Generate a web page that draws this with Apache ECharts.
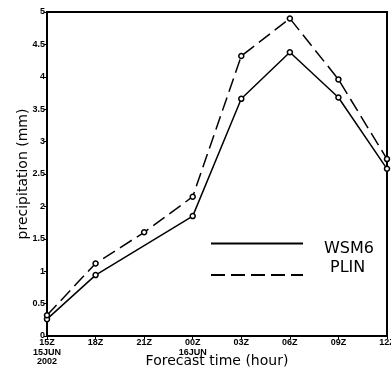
<!DOCTYPE html>
<html><head><meta charset="utf-8">
<script src="https://cdn.jsdelivr.net/npm/echarts@6/dist/echarts.min.js"></script>
<style>html,body{margin:0;padding:0;background:#fff}#c{width:391px;height:371px}</style>
</head><body><div id="c"></div>
<script>
const categories = ['15Z\n15JUN\n2002','18Z','21Z','00Z\n16JUN','03Z','06Z','09Z','12Z'];
const wsm6 = [0.26, 0.94, null, 1.85, 3.66, 4.38, 3.68, 2.58];
const plin = [0.32, 1.12, 1.60, 2.15, 4.32, 4.90, 3.96, 2.73];
const yTicks = [0, 0.5, 1, 1.5, 2, 2.5, 3, 3.5, 4, 4.5, 5];

const chart = echarts.init(document.getElementById('c'));
const tickFont = {fontFamily:'Liberation Sans, Arial', fontWeight:'bold', fontSize:9, color:'#000'};
const legBase = {orient:'horizontal', left:205, itemWidth:92, itemHeight:14,
    itemStyle:{opacity:0}};
chart.setOption({
  animation:false,
  grid:{left:47, top:12, right:4, bottom:35, show:true, borderColor:'#000', borderWidth:2,
        containLabel:false, outerBoundsMode:'none'},
  xAxis:{type:'category', data:categories, boundaryGap:false,
    axisLine:{lineStyle:{color:'#000', width:2}},
    axisTick:{show:true, length:3, inside:false, lineStyle:{color:'#000', width:1}},
    axisLabel:Object.assign({margin:2, lineHeight:9.5, interval:0, hideOverlap:false}, tickFont),
    name:'Forecast time (hour)', nameLocation:'middle', nameGap:18, nameMoveOverlap:false,
    nameTextStyle:{fontFamily:'DejaVu Sans', fontSize:14, color:'#000'}},
  yAxis:{type:'value', min:0, max:5, interval:0.5,
    axisLine:{show:true, lineStyle:{color:'#000', width:2}},
    axisTick:{show:true, length:3, lineStyle:{color:'#000', width:1}},
    axisLabel:Object.assign({margin:2, formatter:v=>yTicks.includes(v)?String(v):''}, tickFont),
    splitLine:{show:false},
    name:'precipitation (mm)', nameLocation:'middle', nameGap:17, nameMoveOverlap:false,
    nameTextStyle:{fontFamily:'DejaVu Sans', fontSize:14, color:'#000'}},
  legend:[
    Object.assign({}, legBase, {top:232, data:['WSM6'], formatter:'{a|{name}}',
      textStyle:{fontFamily:'DejaVu Sans', fontSize:16, color:'#000',
        rich:{a:{fontFamily:'DejaVu Sans', fontSize:16, color:'#000', padding:[10,0,0,16]}}}}),
    Object.assign({}, legBase, {top:255, data:['PLIN'], formatter:'{a|{name}}',
      textStyle:{fontFamily:'DejaVu Sans', fontSize:16, color:'#000',
        rich:{a:{fontFamily:'DejaVu Sans', fontSize:16, color:'#000', padding:[0,0,14,22]}}}})
  ],
  series:[
    {name:'WSM6', type:'line', data:wsm6, connectNulls:true, symbol:'circle', symbolSize:5,
     lineStyle:{color:'#000', width:1.5}, itemStyle:{color:'#fff', borderColor:'#000', borderWidth:1.5}},
    {name:'PLIN', type:'line', data:plin, symbol:'circle', symbolSize:5,
     lineStyle:{color:'#000', width:1.5, type:[14,6]}, itemStyle:{color:'#fff', borderColor:'#000', borderWidth:1.5}}
  ]
});
</script></body></html>
